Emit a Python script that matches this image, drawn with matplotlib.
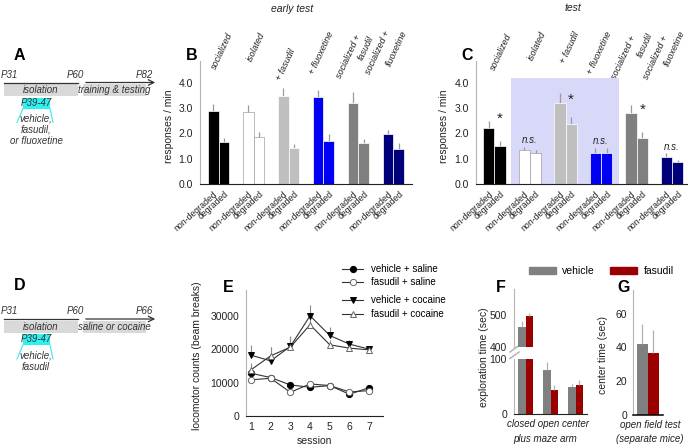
import numpy as np
import matplotlib
matplotlib.use('Agg')
import matplotlib.pyplot as plt
from matplotlib.patches import Rectangle, Patch
from matplotlib.lines import Line2D

plt.rcParams['font.family'] = ['Liberation Sans', 'DejaVu Sans']

# ---- data ----
groups = ['socialized', 'isolated', '+ fasudil', '+ fluoxetine',
          'socialized +\nfasudil', 'socialized +\nfluoxetine']
group_colors = ['#000000', '#ffffff', '#bfbfbf', '#0000f5', '#808080', '#00007a']
contingency = ['non-degraded', 'degraded']

early_nd = [2.90, 2.85, 3.46, 3.42, 3.19, 1.99]
early_nd_err = [0.27, 0.28, 0.34, 0.31, 0.45, 0.16]
early_d = [1.65, 1.87, 1.44, 1.71, 1.63, 1.37]
early_d_err = [0.17, 0.19, 0.16, 0.25, 0.15, 0.25]

test_nd = [2.21, 1.35, 3.19, 1.22, 2.80, 1.07]
test_nd_err = [0.27, 0.11, 0.41, 0.19, 0.32, 0.14]
test_d = [1.50, 1.22, 2.39, 1.22, 1.81, 0.88]
test_d_err = [0.18, 0.12, 0.27, 0.19, 0.23, 0.07]
test_marks = ['*', 'n.s.', '*', 'n.s.', '*', 'n.s.']

sessions = [1, 2, 3, 4, 5, 6, 7]
veh_sal = [12800, 11500, 9300, 8600, 9100, 6500, 8500]
veh_sal_err = [800, 500, 700, 500, 400, 500, 600]
fas_sal = [10800, 11300, 7100, 9600, 9100, 7200, 7600]
fas_sal_err = [600, 500, 600, 500, 500, 500, 500]
veh_coc = [18200, 16500, 20800, 30000, 24100, 21500, 20000]
veh_coc_err = [3100, 4100, 3200, 3300, 2500, 1100, 700]
fas_coc = [13800, 18000, 20600, 27300, 21300, 20300, 19800]
fas_coc_err = [2200, 2600, 3000, 2200, 1500, 1000, 1000]

epm_arms = ['closed', 'open', 'center']
epm_vehicle = [461, 80, 50]
epm_vehicle_err = [19, 14, 4]
epm_fasudil = [496, 44, 52]
epm_fasudil_err = [10, 8, 10]

center_time = [42, 36.6]
center_time_err = [12, 14]

veh_color = '#808080'
fas_color = '#9b0000'
spine_grey = '#b5b5b5'
txt = '#222222'

W, H = 688, 446
fig = plt.figure(figsize=(W / 100, H / 100), dpi=100)


def rect(l, t, r, b):
    return [l / W, 1 - b / H, (r - l) / W, (b - t) / H]


def new_axes(l, t, r, b):
    ax = fig.add_axes(rect(l, t, r, b))
    ax.set_facecolor('none')
    return ax


def style(ax, fs=7.5):
    for s in ('top', 'right'):
        ax.spines[s].set_visible(False)
    ax.spines['left'].set_color(spine_grey)
    ax.spines['bottom'].set_color('#222222')
    ax.spines['bottom'].set_linewidth(0.8)
    ax.tick_params(length=0, labelsize=fs, colors=txt, pad=5)


# overlay in pixel coordinates for schematics, letters, free text
ov = fig.add_axes([0, 0, 1, 1])
ov.set_xlim(0, W)
ov.set_ylim(H, 0)
ov.axis('off')


def timeline(y, end_label, second_box, drug_lines):
    it = dict(style='italic', fontsize=7, color='#333333', ha='center', va='center')
    ov.text(0.5, y - 7.5, 'P31', **dict(it, ha='left'))
    ov.text(75.5, y - 7.5, 'P60', **it)
    ov.text(144.5, y - 7.5, end_label, **it)
    ov.plot([4, 78], [y, y], color='#333333', lw=0.9)
    ov.annotate('', xy=(158, y), xytext=(83, y),
                arrowprops=dict(arrowstyle='->', lw=0.9, color='#333333'))
    ov.add_patch(Rectangle((4, y + 1.5), 74, 12, color='#d9d9d9', lw=0))
    ov.add_patch(Rectangle((83, y + 1.5), 63, 12, color='#d9d9d9', lw=0))
    ov.text(41, y + 7.5, 'isolation', **it)
    ov.text(114.5, y + 7.5, second_box, **it)
    ov.add_patch(Rectangle((23, y + 15), 27, 11, color='#2ef2f2', lw=0))
    ov.text(36.5, y + 20.5, 'P39-47', **it)
    ov.plot([23, 17], [y + 26, y + 40], color='#3ee6f0', lw=0.8)
    ov.plot([50, 53], [y + 26, y + 40], color='#3ee6f0', lw=0.8)
    for k, line in enumerate(drug_lines):
        ov.text(36, y + 36 + 11.5 * k, line, **it)


timeline(82.5, 'P82', 'training & testing', ['vehicle,', 'fasudil,', 'or fluoxetine'])
timeline(319, 'P66', 'saline or cocaine', ['vehicle,', 'fasudil'])

for lab, x, y in [('A', 19.5, 55.5), ('B', 191.5, 55.5), ('C', 467, 55.5),
                  ('D', 19.5, 286), ('E', 228.5, 287), ('F', 500.5, 288),
                  ('G', 624, 288)]:
    ov.text(x, y, lab, fontsize=11.5, fontweight='bold', ha='center', va='center')

ov.text(292, 9, 'early test', style='italic', fontsize=7.5, ha='center', va='center', color=txt)
ov.text(573, 8, 'test', style='italic', fontsize=7.5, ha='center', va='center', color=txt)

# rotated group names, one text per line, anchored at the line's upper end
b_names = [('socialized', 230, 33), ('isolated', 263, 33), ('+ fasudil', 293, 49),
           ('+ fluoxetine', 331, 32), ('socialized +', 359, 35), ('fasudil', 371, 36),
           ('socialized +', 388, 31), ('fluoxetine', 405, 31)]
c_names = [('socialized', 509, 34), ('isolated', 544, 32), ('+ fasudil', 577, 32),
           ('+ fluoxetine', 609, 32), ('socialized +', 634, 36), ('fasudil', 650, 33),
           ('socialized +', 666, 36), ('fluoxetine', 683, 31)]
for s, x, y in b_names + c_names:
    ov.text(x, y, s, rotation=65, style='italic', fontsize=6.5, color=txt,
            ha='right', va='center', rotation_mode='anchor')


def contingency_panel(box, xlim, nd, nd_err, d, d_err, width):
    ax = new_axes(*box)
    x = np.arange(len(groups))
    edges = ['#a0a0a0' if c == '#ffffff' else 'white' for c in group_colors]
    ax.bar(x - width / 2, nd, width, color=group_colors, edgecolor=edges, lw=0.5, zorder=2)
    ax.bar(x + width / 2, d, width, color=group_colors, edgecolor=edges, lw=0.5, zorder=2)
    ax.vlines(x - width / 2, nd, np.add(nd, nd_err), color='#9a9a9a', lw=0.9, zorder=1)
    ax.vlines(x + width / 2, d, np.add(d, d_err), color='#9a9a9a', lw=0.9, zorder=1)
    ax.set_xlim(*xlim)
    ax.set_ylim(0, 4.86)
    ax.set_yticks([0, 1, 2, 3, 4])
    ax.set_yticklabels(['%.1f' % v for v in [0, 1, 2, 3, 4]])
    ticks = np.ravel(np.column_stack([x - width / 2, x + width / 2]))
    ax.set_xticks(ticks)
    ax.set_xticklabels(contingency * len(groups), rotation=42, ha='right',
                       rotation_mode='anchor', fontsize=6.3)
    style(ax)
    ax.tick_params(axis='x', pad=4, labelsize=6.3)
    ax.set_ylabel('responses / min', fontsize=7.5, color=txt)
    return ax, x


axB, xb = contingency_panel((200, 61, 412, 184), (-0.53, 5.53),
                            early_nd, early_nd_err, early_d, early_d_err, 0.3)
axB.yaxis.set_label_coords(-0.125, 0.47)

axC, xc = contingency_panel((476, 61, 687, 184), (-0.52, 5.42),
                            test_nd, test_nd_err, test_d, test_d_err, 0.32)
axC.yaxis.set_label_coords(-0.13, 0.47)
axC.add_patch(Rectangle((xc[1] - 0.54, 0), xc[3] - xc[1] + 1.05, 4.17,
                        color='#d8d8f8', lw=0, zorder=0))
for i, m in enumerate(test_marks):
    if m == '*':
        ax_y = test_nd[i] + 0.12 + (0.25 if i == 0 else 0)
        axC.text(xc[i] + 0.16, ax_y, '*', fontsize=11, ha='center', va='center', color=txt)
    else:
        axC.text(xc[i], max(test_nd[i] + test_nd_err[i], test_d[i] + test_d_err[i]) + 0.27,
                 'n.s.', style='italic', fontsize=7, ha='center', va='center', color=txt)

# ---- E: locomotor counts ----
axE = new_axes(246, 290, 383, 416)
series = [
    (veh_sal, veh_sal_err, 'o', 'black', 'black', 'vehicle + saline'),
    (fas_sal, fas_sal_err, 'o', 'white', '#666666', 'fasudil + saline'),
    (veh_coc, veh_coc_err, 'v', 'black', 'black', 'vehicle + cocaine'),
    (fas_coc, fas_coc_err, '^', 'white', '#666666', 'fasudil + cocaine'),
]
handles = []
for vals, err, mk, fc, ec, lab in series:
    axE.vlines(sessions, vals, np.add(vals, err), color='#8a8a8a', lw=0.8, zorder=1)
    axE.plot(sessions, vals, color='#333333', lw=0.8, marker=mk, ms=4.5,
             mfc=fc, mec=ec, mew=0.7, zorder=3)
    handles.append(Line2D([], [], color='#333333', lw=0.8, marker=mk, ms=4.5,
                          mfc=fc, mec=ec, mew=0.7))
axE.set_xlim(0.75, 7.7)
axE.set_ylim(0, 37700)
axE.set_xticks(sessions)
axE.set_yticks([0, 10000, 20000, 30000])
style(axE)
axE.tick_params(axis='x', pad=4)
axE.set_xlabel('session', fontsize=7.5, color=txt, labelpad=3)
axE.set_ylabel('locomotor counts (beam breaks)', fontsize=7.5, color=txt)
axE.yaxis.set_label_coords(-0.32, 0.48)

leg_kw = dict(frameon=False, fontsize=7, handlelength=2.2, handletextpad=0.8,
              borderpad=0, borderaxespad=0, loc='upper left')
fig.legend(handles[:2], [s[5] for s in series[:2]], bbox_to_anchor=(342 / W, 1 - 264 / H),
           labelspacing=0.3, **leg_kw)
fig.legend(handles[2:], [s[5] for s in series[2:]], bbox_to_anchor=(342 / W, 1 - 295 / H),
           labelspacing=0.45, **leg_kw)

# ---- F: elevated plus maze (broken axis) ----
axF_top = new_axes(514, 289, 587, 347)
axF_bot = new_axes(514, 359, 587, 414)
xf = np.arange(len(epm_arms))
for ax in (axF_top, axF_bot):
    ax.bar(xf - 0.15, epm_vehicle, 0.3, color=veh_color, zorder=2)
    ax.bar(xf + 0.15, epm_fasudil, 0.3, color=fas_color, zorder=2)
    ax.vlines(xf - 0.15, epm_vehicle, np.add(epm_vehicle, epm_vehicle_err), color='#b0b0b0', lw=0.9)
    ax.vlines(xf + 0.15, epm_fasudil, np.add(epm_fasudil, epm_fasudil_err), color='#b0b0b0', lw=0.9)
    ax.set_xlim(-0.46, 2.46)
    ax.set_xticks([])
    style(ax)
axF_top.set_ylim(400, 581)
axF_top.set_yticks([400, 500])
axF_top.spines['bottom'].set_visible(False)
axF_bot.set_ylim(0, 100)
axF_bot.set_yticks([0, 100])
ov.plot([510, 519], [352, 345.5], color=spine_grey, lw=1.1)
ov.plot([510, 519], [358.5, 352], color=spine_grey, lw=1.1)
ov.text(484, 357, 'exploration time (sec)', rotation=90, fontsize=7.5, color=txt,
        ha='center', va='center')
ov.text(548, 424, 'closed open center', style='italic', fontsize=7, color=txt, ha='center', va='center')
ov.text(545, 439, 'plus maze arm', style='italic', fontsize=7, color=txt, ha='center', va='center')

# ---- G: open field ----
axG = new_axes(633, 290, 663, 415)
xg = np.arange(2)
axG.bar(xg, center_time, 0.97, color=[veh_color, fas_color], zorder=2)
axG.vlines(xg, center_time, np.add(center_time, center_time_err), color='#b0b0b0', lw=0.9)
axG.set_xlim(-0.85, 1.88)
axG.set_ylim(0, 74)
axG.set_yticks([0, 20, 40, 60])
axG.set_xticks([])
style(axG)
axG.spines['bottom'].set_linewidth(1.1)
axG.spines['bottom'].set_color('black')
axG.tick_params(axis='y', pad=4)
axG.set_ylabel('center time (sec)', fontsize=7.5, color=txt)
axG.yaxis.set_label_coords(-0.83, 0.48)
ov.text(650, 425, 'open field test', style='italic', fontsize=7, color=txt, ha='center', va='center')
ov.text(650, 439, '(separate mice)', style='italic', fontsize=7, color=txt, ha='center', va='center')

fig.legend([Patch(color=veh_color), Patch(color=fas_color)], ['vehicle', 'fasudil'],
           ncol=2, loc='center left', bbox_to_anchor=(529 / W, 1 - 271 / H), frameon=False,
           fontsize=7.5, handlelength=2.6, handleheight=0.6, handletextpad=0.6,
           columnspacing=1.45, borderpad=0, borderaxespad=0)

fig.savefig('out.png', dpi=100)
